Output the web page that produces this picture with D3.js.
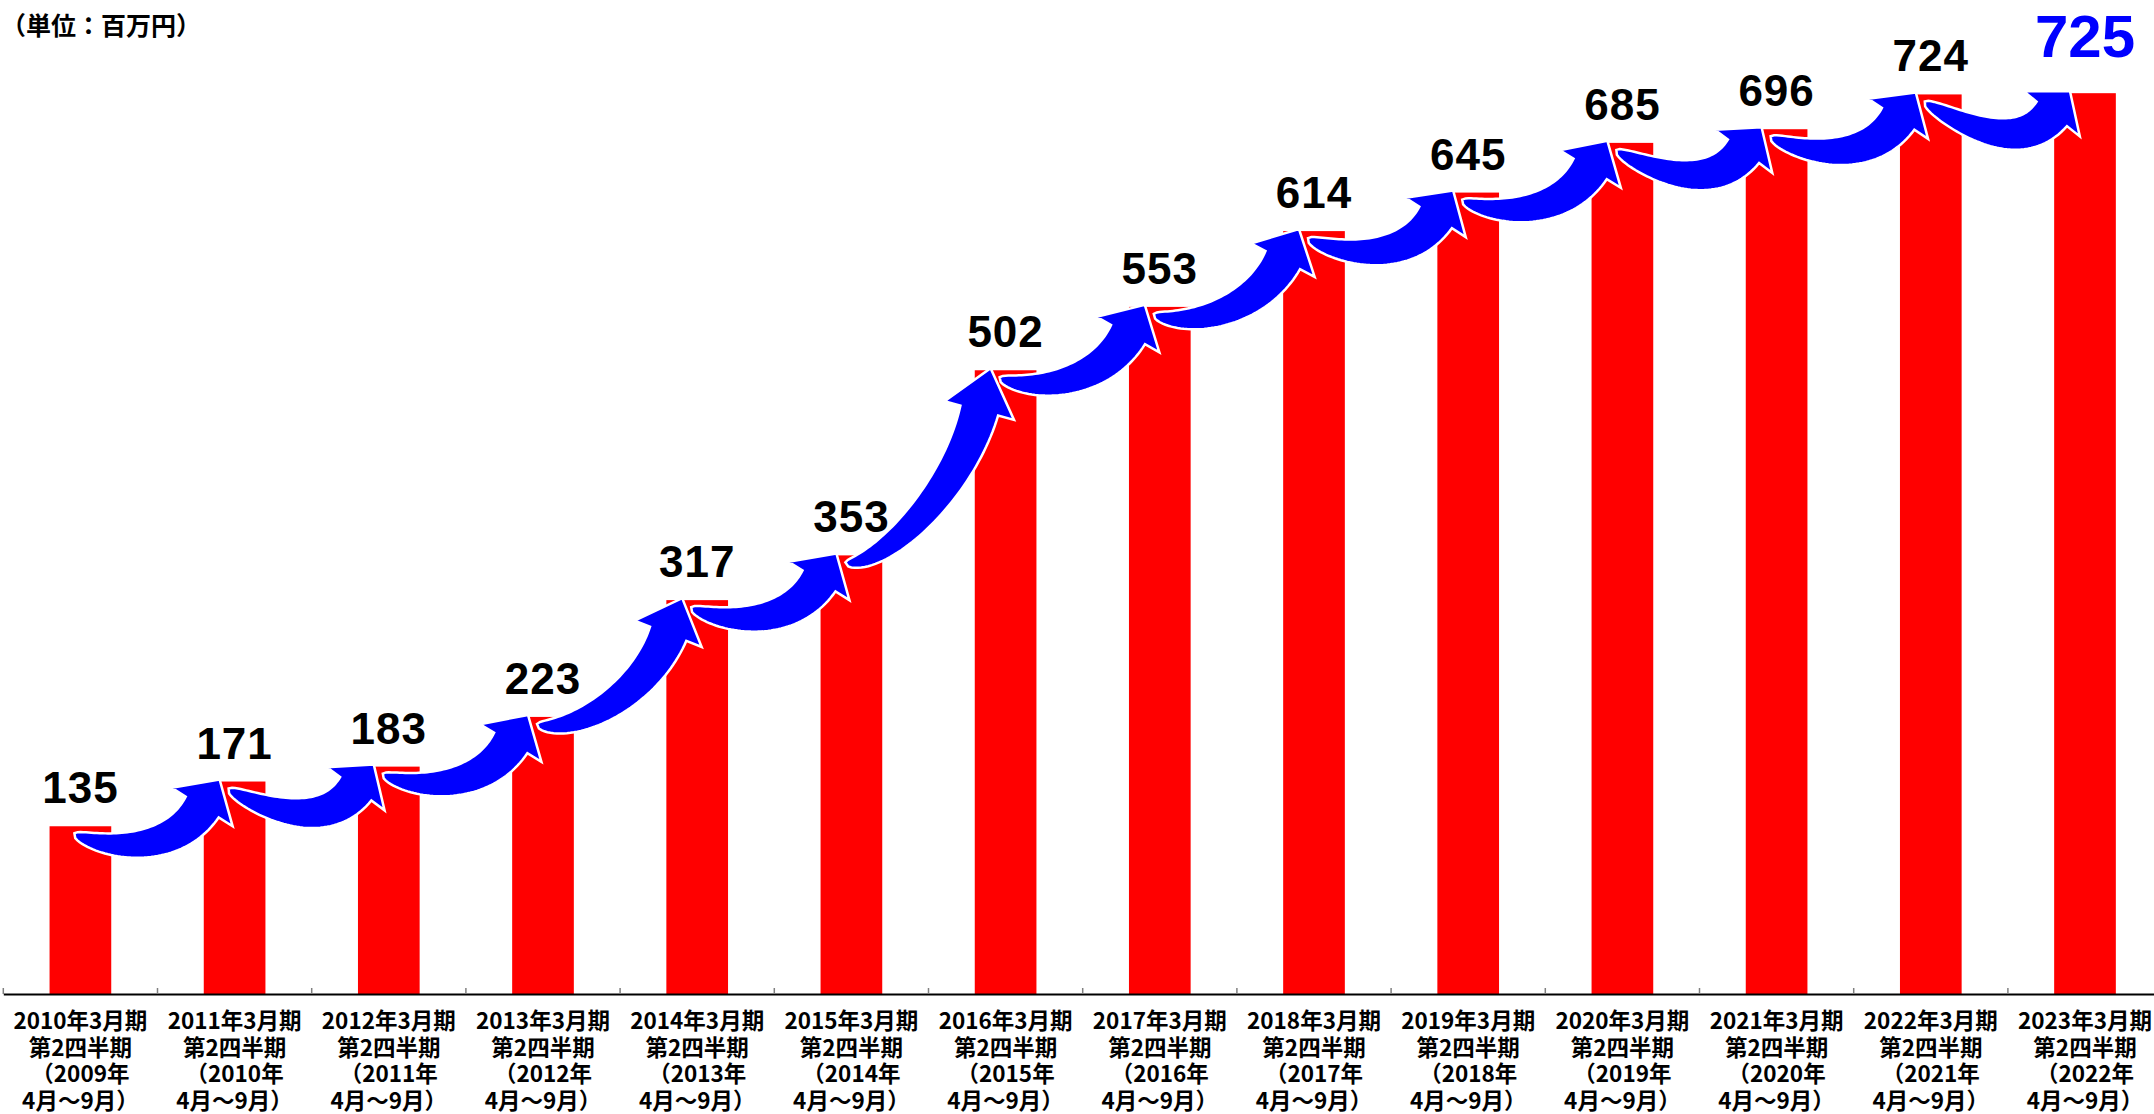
<!DOCTYPE html>
<html><head><meta charset="utf-8">
<script src="https://cdn.jsdelivr.net/npm/d3@7"></script>
<style>html,body{margin:0;padding:0;background:#fff;overflow:hidden}</style>
</head><body>
<svg id="chart" width="2154" height="1114"></svg>
<script>
// ---- data ----
const categories = ["2010年3月期","2011年3月期","2012年3月期","2013年3月期","2014年3月期","2015年3月期","2016年3月期","2017年3月期","2018年3月期","2019年3月期","2020年3月期","2021年3月期","2022年3月期","2023年3月期"];
const quarterLabel = "第2四半期";
const periodYears = ["2009年","2010年","2011年","2012年","2013年","2014年","2015年","2016年","2017年","2018年","2019年","2020年","2021年","2022年"];
const periodMonths = "4月～9月）";
const values = [135,171,183,223,317,353,502,553,614,645,685,696,724,725];
const unitLabel = "（単位：百万円）";

// ---- layout ----
const FONT = "'Noto Sans CJK JP','Noto Sans',sans-serif";
const NUMFONT = "'Liberation Sans',Arial,sans-serif";
const svg = d3.select("#chart");
const x0 = 3.3, step = 154.2;
const x = d3.scaleBand().domain(categories).range([x0, x0 + step * categories.length])
  .paddingInner(0.6).paddingOuter(0.3);
const y = d3.scaleLinear().domain([0, 800]).range([994, 0]);
const bw = x.bandwidth();
const cx = c => x(c) + bw / 2;

// bars
svg.append("g").selectAll("rect").data(values).join("rect")
  .attr("x", (d, i) => x(categories[i]))
  .attr("y", d => y(d))
  .attr("width", bw)
  .attr("height", d => y(0) - y(d))
  .attr("fill", "#FF0000");

// arrows
function arrowPath(i) {
  const T = [cx(categories[i]) - 6, y(values[i]) + 7];
  const tip = [cx(categories[i + 1]) - 15, y(values[i + 1]) - 2];
  const rise = y(values[i]) - y(values[i + 1]);
  const ang = Math.min(75, 51 + 0.15 * rise) * Math.PI / 180;
  const dir = [Math.cos(ang), -Math.sin(ang)];
  const headLen = 29 + 0.08 * rise;
  const B = [tip[0] - headLen * dir[0], tip[1] - headLen * dir[1]];
  const dist = Math.hypot(B[0] - T[0], B[1] - T[1]);
  const P1 = [T[0] + 0.3 * (B[0] - T[0]), T[1] + Math.max(-2, 22 - 0.12 * rise)];
  const P2 = [B[0] - 0.4 * dist * dir[0], B[1] - 0.4 * dist * dir[1]];
  const P = [T, P1, P2, B];
  const bez = t => {
    const a = (1 - t) ** 3, b = 3 * (1 - t) ** 2 * t, c = 3 * (1 - t) * t * t, d = t ** 3;
    return [a * P[0][0] + b * P[1][0] + c * P[2][0] + d * P[3][0], a * P[0][1] + b * P[1][1] + c * P[2][1] + d * P[3][1]];
  };
  const der = t => {
    const a = 3 * (1 - t) ** 2, b = 6 * (1 - t) * t, c = 3 * t * t;
    return [a * (P[1][0] - P[0][0]) + b * (P[2][0] - P[1][0]) + c * (P[3][0] - P[2][0]),
            a * (P[1][1] - P[0][1]) + b * (P[2][1] - P[1][1]) + c * (P[3][1] - P[2][1])];
  };
  const shaft = 19.5, wing = 36, N = 48;
  const upper = [], lower = [];
  for (let k = 0; k <= N; k++) {
    const t = k / N;
    const p = bez(t), dv = der(t);
    const len = Math.hypot(dv[0], dv[1]) || 1;
    const nu = [dv[1] / len, -dv[0] / len];
    const hu = shaft * Math.pow(t, 0.55);
    const hl = shaft * Math.pow(t, 0.4);
    upper.push([p[0] + hu * nu[0], p[1] + hu * nu[1]]);
    lower.push([p[0] - hl * nu[0], p[1] - hl * nu[1]]);
  }
  const nu = [dir[1], -dir[0]];
  const pts = upper.concat([
    [B[0] + wing * nu[0], B[1] + wing * nu[1]],
    tip,
    [B[0] - wing * nu[0], B[1] - wing * nu[1]]
  ]).concat(lower.reverse());
  return d3.line()(pts) + "Z";
}
svg.append("g").selectAll("path").data(d3.range(values.length - 1)).join("path")
  .attr("d", i => arrowPath(i))
  .attr("fill", "#0000FF")
  .attr("stroke", "#FFFFFF")
  .attr("stroke-width", 2.5)
  .attr("stroke-linejoin", "miter");

// value labels
const last = values.length - 1;
svg.append("g").selectAll("text").data(values).join("text")
  .attr("x", (d, i) => cx(categories[i]))
  .attr("y", (d, i) => y(d) - (i === last ? 36 : 23))
  .attr("text-anchor", "middle")
  .attr("font-family", NUMFONT)
  .attr("font-weight", 700)
  .attr("font-size", (d, i) => i === last ? 60 : 44)
  .attr("letter-spacing", (d, i) => i === last ? 0 : 1)
  .attr("fill", (d, i) => i === last ? "#0000FF" : "#000000")
  .text(d => d);

// axis
const axis = svg.append("g").attr("transform", `translate(0,${y(0)})`)
  .call(d3.axisBottom(x).tickSize(0).tickFormat(""));
axis.select(".domain").attr("stroke", "#000").attr("stroke-width", 2);
svg.append("g").selectAll("line").data(d3.range(categories.length + 1)).join("line")
  .attr("x1", k => x.range()[0] + k * x.step())
  .attr("x2", k => x.range()[0] + k * x.step())
  .attr("y1", y(0)).attr("y2", y(0) - 6)
  .attr("stroke", "#808080").attr("stroke-width", 1.5);

// tick labels
const tl = svg.append("g").selectAll("text").data(categories).join("text")
  .attr("text-anchor", "middle")
  .attr("font-family", FONT)
  .attr("font-weight", 700)
  .attr("font-size", 22.5)
  .attr("fill", "#000");
tl.each(function (c, i) {
  const lines = [c, quarterLabel, "（" + periodYears[i], periodMonths];
  const t = d3.select(this);
  lines.forEach((s, j) => {
    t.append("tspan").attr("x", cx(c)).attr("y", 1029 + j * 26.7).text(s);
  });
});

// unit label
svg.append("text").attr("x", 1).attr("y", 35)
  .attr("font-family", FONT).attr("font-weight", 700).attr("font-size", 25)
  .attr("fill", "#000").text(unitLabel);
</script>
</body></html>
